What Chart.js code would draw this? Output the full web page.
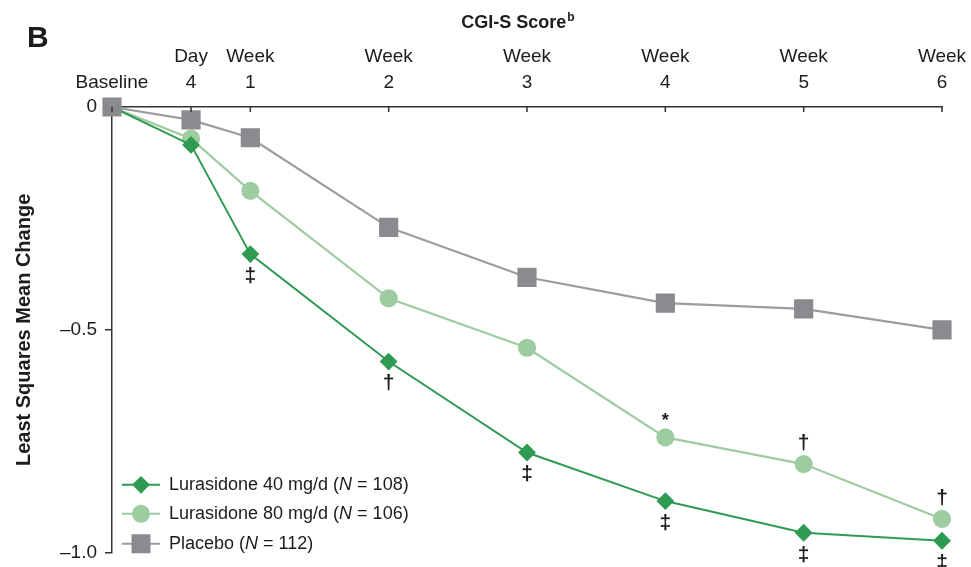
<!DOCTYPE html>
<html>
<head>
<meta charset="utf-8">
<title>CGI-S Score</title>
<script src="https://cdn.jsdelivr.net/npm/chart.js@4.4.1/dist/chart.umd.min.js"></script>
<style>
  html, body { margin: 0; padding: 0; background: #fff; }
  canvas { display: block; }
</style>
</head>
<body>
<canvas id="cgi-chart" width="971" height="567"></canvas>
<script>
/* CGI-S score — least squares mean change from baseline */

const VISIT_DAYS = [0, 4, 7, 14, 21, 28, 35, 42];
const VISIT_LABELS = [
    ['', 'Baseline'], ['Day', '4'], ['Week', '1'], ['Week', '2'],
    ['Week', '3'], ['Week', '4'], ['Week', '5'], ['Week', '6']
];
const Y_TICKS = [0, -0.5, -1.0];

const LURA40 = [0, -0.085, -0.330, -0.571, -0.775, -0.884, -0.955, -0.973];
const LURA80 = [0, -0.071, -0.188, -0.429, -0.540, -0.741, -0.801, -0.924];
const PLACEBO = [0, -0.029, -0.069, -0.270, -0.382, -0.440, -0.453, -0.500];

// significance symbols: 40 mg below its points, 80 mg above
const LURA40_MARKS = ['', '', '\u2021', '\u2020', '\u2021', '\u2021', '\u2021', '\u2021'];
const LURA80_MARKS = ['', '', '', '', '', '*', '\u2020', '\u2020'];

const FONT = '"Liberation Sans", Arial, Helvetica, sans-serif';
const TEXT = '#1e1b1c';
const AXIS = '#333333';
const GREEN_DARK = '#2f9a52';
const GREEN_LIGHT = '#9dcca1';
const GREY_MARK = '#8b8b8f';
const GREY_LINE = '#9c9c9c';

const pts = vals => VISIT_DAYS.map((d, i) => ({ x: d, y: vals[i] }));

const LEGEND = [
    { text: 'Lurasidone 40 mg/d (', n: '108', line: GREEN_DARK, fill: GREEN_DARK, style: 'rectRot', radius: 7.5 },
    { text: 'Lurasidone 80 mg/d (', n: '106', line: GREEN_LIGHT, fill: GREEN_LIGHT, style: 'circle', radius: 8 },
    { text: 'Placebo (', n: '112', line: GREY_LINE, fill: GREY_MARK, style: 'rect', radius: 12 },
];

const decorPlugin = {
    id: 'decor',
    afterDraw(chart) {
        const { ctx, chartArea, scales: { x, y } } = chart;
        ctx.save();
        ctx.fillStyle = TEXT;
        ctx.textBaseline = 'alphabetic';
        ctx.textAlign = 'left';

        // panel letter
        ctx.font = 'bold 30px ' + FONT;
        ctx.fillText('B', 27, 47);

        // title with superscript
        ctx.font = 'bold 18px ' + FONT;
        const main = 'CGI-S Score';
        const mw = ctx.measureText(main).width;
        ctx.font = 'bold 12px ' + FONT;
        const sw = ctx.measureText('b').width;
        const tx = (chartArea.left + chartArea.right) / 2 - 9 - (mw + sw + 1) / 2;
        ctx.font = 'bold 18px ' + FONT;
        ctx.fillText(main, tx, 28);
        ctx.font = 'bold 12px ' + FONT;
        ctx.fillText('b', tx + mw + 1, 21);

        // x tick marks point down into the plot
        ctx.strokeStyle = AXIS;
        ctx.lineWidth = 1.5;
        VISIT_DAYS.forEach(d => {
            const px = x.getPixelForValue(d);
            ctx.beginPath();
            ctx.moveTo(px, chartArea.top);
            ctx.lineTo(px, chartArea.top + 5);
            ctx.stroke();
        });

        // significance marks
        ctx.textAlign = 'center';
        ctx.textBaseline = 'middle';
        VISIT_DAYS.forEach((d, i) => {
            const px = x.getPixelForValue(d);
            if (LURA40_MARKS[i]) {
                ctx.font = 'bold 21px ' + FONT;
                ctx.fillText(LURA40_MARKS[i], px, y.getPixelForValue(LURA40[i]) + 22);
            }
            if (LURA80_MARKS[i]) {
                const star = LURA80_MARKS[i] === '*';
                ctx.font = (star ? 'bold 18px ' : 'bold 21px ') + FONT;
                ctx.fillText(LURA80_MARKS[i], px, y.getPixelForValue(LURA80[i]) + (star ? -16 : -21));
            }
        });

        // legend
        const lx = chartArea.left + 10;
        const rows = [chartArea.bottom - 68, chartArea.bottom - 39, chartArea.bottom - 9];
        ctx.textAlign = 'left';
        LEGEND.forEach((item, i) => {
            const ly = rows[i];
            ctx.strokeStyle = item.line;
            ctx.lineWidth = 2;
            ctx.beginPath();
            ctx.moveTo(lx, ly);
            ctx.lineTo(lx + 38, ly);
            ctx.stroke();
            ctx.fillStyle = item.fill;
            ctx.strokeStyle = item.fill;
            Chart.helpers.drawPoint(ctx, { pointStyle: item.style, radius: item.radius, rotation: 0, borderWidth: 1 }, lx + 19, ly);

            ctx.fillStyle = TEXT;
            ctx.textBaseline = 'middle';
            let cx = lx + 47;
            ctx.font = '18px ' + FONT;
            ctx.fillText(item.text, cx, ly);
            cx += ctx.measureText(item.text).width;
            ctx.font = 'italic 18px ' + FONT;
            ctx.fillText('N', cx, ly);
            cx += ctx.measureText('N').width;
            ctx.font = '18px ' + FONT;
            ctx.fillText(' = ' + item.n + ')', cx, ly);
        });
        ctx.restore();
    }
};

new Chart(document.getElementById('cgi-chart').getContext('2d'), {
    type: 'line',
    data: {
        datasets: [
            {
                label: 'Placebo',
                data: pts(PLACEBO),
                borderColor: GREY_LINE,
                backgroundColor: GREY_MARK,
                pointBackgroundColor: GREY_MARK,
                pointBorderColor: GREY_MARK,
                pointStyle: 'rect',
                pointRadius: 12,
                borderWidth: 2.2,
                clip: false,
            },
            {
                label: 'Lurasidone 40 mg/d',
                data: pts(LURA40),
                borderColor: GREEN_DARK,
                backgroundColor: GREEN_DARK,
                pointBackgroundColor: GREEN_DARK,
                pointBorderColor: GREEN_DARK,
                pointStyle: 'rectRot',
                pointRadius: 7.5,
                borderWidth: 2,
                clip: false,
            },
            {
                label: 'Lurasidone 80 mg/d',
                data: pts(LURA80),
                borderColor: GREEN_LIGHT,
                backgroundColor: GREEN_LIGHT,
                pointBackgroundColor: GREEN_LIGHT,
                pointBorderColor: GREEN_LIGHT,
                pointStyle: 'circle',
                pointRadius: 8,
                borderWidth: 2.2,
                clip: false,
            },
        ],
    },
    options: {
        responsive: false,
        animation: false,
        devicePixelRatio: 1,
        layout: { padding: { left: 0, right: 29, top: 0, bottom: 12 } },
        plugins: { legend: { display: false }, tooltip: { enabled: false }, title: { display: false } },
        elements: { line: { tension: 0 }, point: { borderWidth: 1 } },
        scales: {
            x: {
                type: 'linear',
                position: 'top',
                min: 0,
                max: 42,
                afterBuildTicks: s => { s.ticks = VISIT_DAYS.map(v => ({ value: v })); },
                afterFit: s => { s.height = 107; s.paddingLeft = 0; s.paddingRight = 0; },
                ticks: {
                    autoSkip: false,
                    maxRotation: 0,
                    padding: 11,
                    color: TEXT,
                    font: { family: FONT, size: 19, lineHeight: 1.37 },
                    callback: (v, i) => VISIT_LABELS[i],
                },
                grid: { display: false, drawTicks: false, tickLength: 0 },
                border: { display: true, color: AXIS, width: 1.5 },
            },
            y: {
                min: -1,
                max: 0,
                afterBuildTicks: s => { s.ticks = Y_TICKS.map(v => ({ value: v })); },
                afterFit: s => { s.width = 112; s.paddingTop = 0; s.paddingBottom = 0; },
                ticks: {
                    padding: 8,
                    color: TEXT,
                    font: { family: FONT, size: 19 },
                    callback: v => v === 0 ? '0' : '\u2013' + Math.abs(v).toFixed(1),
                },
                grid: { drawOnChartArea: false, drawTicks: true, tickLength: 7, color: AXIS, lineWidth: 1.5 },
                border: { display: true, color: AXIS, width: 1.5 },
                title: {
                    display: true,
                    text: 'Least Squares Mean Change',
                    color: TEXT,
                    font: { family: FONT, size: 20, weight: 'bold' },
                    padding: { top: 12, bottom: 0 },
                },
            },
        },
    },
    plugins: [decorPlugin],
});
</script>
</body>
</html>
